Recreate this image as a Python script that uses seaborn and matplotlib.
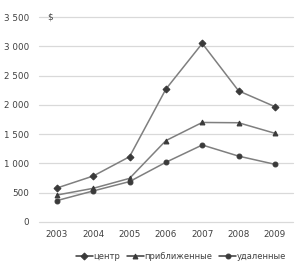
import pandas as pd
import numpy as np
import matplotlib
matplotlib.use('Agg')
import matplotlib.pyplot as plt
import seaborn as sns
from matplotlib.ticker import FuncFormatter

# data
years = ['2003', '2004', '2005', '2006', '2007', '2008', '2009']
center = [580, 785, 1115, 2270, 3050, 2240, 1970]
near = [460, 575, 745, 1390, 1700, 1695, 1515]
far = [365, 530, 690, 1020, 1315, 1125, 985]
series_names = ['центр', 'приближенные', 'удаленные']

df = pd.DataFrame({
    'year': years * 3,
    'value': center + near + far,
    'series': [series_names[0]] * 7 + [series_names[1]] * 7 + [series_names[2]] * 7,
})

sns.set_style('white')
plt.rcParams['font.family'] = ['DejaVu Sans']

fig = plt.figure(figsize=(3.0, 2.63), dpi=100)
ax = fig.add_axes([0.129, 0.156, 0.848, 0.779])

sns.lineplot(data=df, x='year', y='value', hue='series', style='series',
             markers=['D', '^', 'o'], dashes=False, sort=False,
             palette=['#7f7f7f'] * 3, linewidth=1.1, markersize=3.5,
             markerfacecolor='#3a3a3a', markeredgecolor='#3a3a3a', ax=ax)

ax.set_ylim(0, 3500)
ax.set_xlim(-0.5, 6.5)
ax.set_yticks(np.arange(0, 3501, 500))
ax.yaxis.set_major_formatter(FuncFormatter(lambda v, p: f'{int(v):,}'.replace(',', ' ')))
ax.grid(axis='y', color='#d9d9d9', linewidth=0.9, clip_on=False)
ax.set_axisbelow(True)
for s in ax.spines.values():
    s.set_visible(False)
ax.tick_params(axis='both', length=0, labelsize=6.3, colors='#404040', pad=6)
ax.tick_params(axis='y', pad=7)
ax.set_xlabel('')
ax.set_ylabel('')
ax.text(0.035, 1.0, '$', transform=ax.transAxes, fontsize=6.3, color='#404040',
        ha='left', va='center')

handles, labels = ax.get_legend_handles_labels()
for h in handles:
    h.set_color('#3a3a3a')
ax.legend(handles, labels, loc='upper center', bbox_to_anchor=(0.56, -0.11),
          ncol=3, frameon=False, fontsize=6, handlelength=2.0,
          handletextpad=0.1, columnspacing=0.8, labelcolor='#404040')

fig.savefig('out.png', dpi=100)
